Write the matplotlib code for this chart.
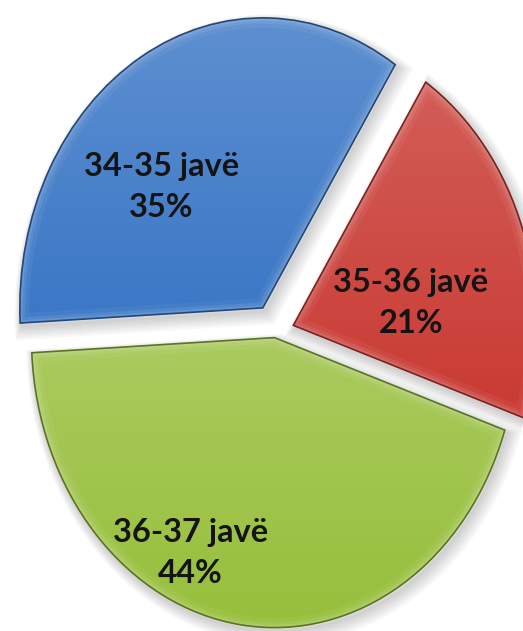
import numpy as np
import matplotlib.pyplot as plt
from matplotlib.patches import PathPatch
from matplotlib import transforms
from matplotlib.colors import to_rgb

categories = ['34-35 javë', '35-36 javë', '36-37 javë']
values = [35, 21, 44]
colors = ['#3a77c6', '#c93a33', '#97bf3b']
explode = [0.10, 0.08, 0.016]

# where each label sits, measured from the tip of its (exploded) slice
label_r = [0.59, 0.49, 0.82]
label_ang = [135, 9, 245]

plt.rcParams['font.family'] = ['Lato', 'DejaVu Sans']

fig = plt.figure(figsize=(5.23, 6.31), dpi=100)
ax = fig.add_axes([0, 0, 1, 1])

wedges, _ = ax.pie(values, colors=colors, explode=explode,
                   startangle=183, counterclock=False, radius=1.0)

for w, c in zip(wedges, colors):
    base = np.array(to_rgb(c))
    light = base + (1 - base) * 0.18
    dark = base * 0.6
    path = w.get_path()

    # soft drop shadow
    for k in range(6):
        off = transforms.ScaledTranslation(0.02 + 0.006 * k, -0.035 - 0.006 * k,
                                           fig.dpi_scale_trans)
        sh = PathPatch(path, transform=ax.transData + off, fc='none',
                       ec='black', lw=2 + 2.5 * k, alpha=0.03, zorder=0.5)
        ax.add_patch(sh)
    w.set_zorder(1)
    w.set_edgecolor('none')

    # vertical gradient inside the slice
    ext = path.get_extents()
    t = np.linspace(0, 1, 256)[:, None, None]
    img = light[None, None, :] * (1 - t) + base[None, None, :] * t
    im = ax.imshow(img, extent=(ext.x0, ext.x1, ext.y0, ext.y1),
                   origin='upper', aspect='auto', zorder=1.1)
    im.set_clip_path(w)

    # bevel: light glow on the inside of the rim
    for lw, a in [(14, 0.05), (8, 0.08), (4, 0.10)]:
        hp = PathPatch(path, transform=ax.transData, fc='none', ec='white',
                       lw=lw, alpha=a, zorder=1.2)
        ax.add_patch(hp)
        hp.set_clip_path(w)
    rim = PathPatch(path, transform=ax.transData, fc='none', ec=dark,
                    lw=1.2, zorder=1.3)
    ax.add_patch(rim)

for w, cat, v, r, a in zip(wedges, categories, values, label_r, label_ang):
    cx, cy = w.center
    x = cx + r * np.cos(np.radians(a))
    y = cy + r * np.sin(np.radians(a))
    ax.text(x, y, f'{cat}\n{v}%', ha='center', va='center', fontsize=23.5,
            fontweight='bold', color='#141414', linespacing=1.5, zorder=3)

ax.set_aspect('auto')
ax.set_xlim(-275 / 243, (523 - 275) / 243)
ax.set_ylim(-298 / 290, 333 / 290)
ax.axis('off')

fig.savefig('out.png', dpi=100, facecolor='white')
